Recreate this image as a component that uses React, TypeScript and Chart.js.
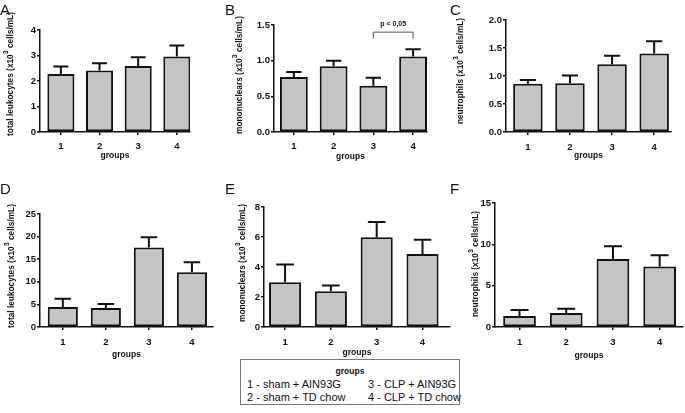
import React, { useEffect, useRef } from "react";
import { Chart, registerables } from "chart.js";

Chart.register(...registerables);

// ---------- data ----------
const groups = ["1", "2", "3", "4"];

// A: total leukocytes (x10^3 cells/mL)
const aMean = [2.27, 2.41, 2.59, 2.96];
const aSem = [0.3, 0.29, 0.34, 0.43];
const aTicks = [0, 1, 2, 3, 4];
// B: mononuclears
const bMean = [0.77, 0.92, 0.65, 1.06];
const bSem = [0.07, 0.08, 0.11, 0.1];
const bTicks = [0, 0.5, 1.0, 1.5];
// C: neutrophils
const cMean = [0.86, 0.87, 1.21, 1.4];
const cSem = [0.07, 0.14, 0.15, 0.22];
const cTicks = [0, 0.5, 1.0, 1.5, 2.0];
// D: total leukocytes
const dMean = [4.4, 4.2, 17.6, 12.1];
const dSem = [1.85, 0.9, 2.25, 2.2];
const dTicks = [0, 5, 10, 15, 20, 25];
// E: mononuclears
const eMean = [2.98, 2.38, 5.98, 4.87];
const eSem = [1.18, 0.38, 1.02, 0.95];
const eTicks = [0, 2, 4, 6, 8];
// F: neutrophils
const fMean = [1.33, 1.69, 8.23, 7.32];
const fSem = [0.73, 0.52, 1.53, 1.35];
const fTicks = [0, 5, 10, 15];

const pLabel = "p < 0,05";
const legendTitle = "groups";
const legendItems = [
  "1 - sham + AIN93G",
  "2 - sham + TD chow",
  "3 - CLP + AIN93G",
  "4 - CLP + TD chow",
];

const FONT = "'Liberation Sans', Arial, Helvetica, sans-serif";

type Panel = {
  letter: string;
  mean: number[];
  sem: number[];
  ticks: number[];
  dec: number;
  title: string;
  L: number; R: number; T: number; B: number;
  xMin: number; xMax: number;
  titleX: number; titleY: number;
  xl: number; xt: number;
  letterX: number; letterY: number;
  bracket?: boolean;
};

const panels: Panel[] = [
  { letter: "A", mean: aMean, sem: aSem, ticks: aTicks, dec: 0, title: "total leukocytes",
    L: 40, R: 190, T: 30, B: 132, xMin: 0.46, xMax: 4.34, titleX: 11, titleY: 74, xl: 14, xt: 24, letterX: 0, letterY: 2 },
  { letter: "B", mean: bMean, sem: bSem, ticks: bTicks, dec: 1, title: "mononuclears",
    L: 274, R: 427, T: 25, B: 132, xMin: 0.5, xMax: 4.35, titleX: 240, titleY: 75, xl: 14, xt: 25, letterX: 225, letterY: 2, bracket: true },
  { letter: "C", mean: cMean, sem: cSem, ticks: cTicks, dec: 1, title: "neutrophils",
    L: 506, R: 671, T: 20, B: 132, xMin: 0.48, xMax: 4.4, titleX: 461, titleY: 71, xl: 15, xt: 24, letterX: 450, letterY: 2 },
  { letter: "D", mean: dMean, sem: dSem, ticks: dTicks, dec: 0, title: "total leukocytes",
    L: 40, R: 213, T: 214, B: 327, xMin: 0.47, xMax: 4.49, titleX: 12, titleY: 266, xl: 15, xt: 28, letterX: 0, letterY: 181 },
  { letter: "E", mean: eMean, sem: eSem, ticks: eTicks, dec: 0, title: "mononuclears",
    L: 264, R: 450, T: 207, B: 327, xMin: 0.54, xMax: 4.6, titleX: 243, titleY: 263, xl: 15, xt: 26, letterX: 225, letterY: 181 },
  { letter: "F", mean: fMean, sem: fSem, ticks: fTicks, dec: 0, title: "neutrophils",
    L: 495, R: 683, T: 203, B: 327, xMin: 0.475, xMax: 4.5, titleX: 476, titleY: 264, xl: 15, xt: 29, letterX: 450, letterY: 181 },
];

function PanelChart({ p }: { p: Panel }) {
  const ref = useRef<HTMLCanvasElement | null>(null);
  const cl = Math.max(0, p.titleX - 10);
  const ct = Math.max(0, Math.min(p.T - 16, p.titleY - 72));
  const cr = Math.min(685, p.R + 8);
  const H = p.xt + 5;
  const cb = p.B + H;
  const cw = cr - cl;
  const ch = cb - ct;

  useEffect(() => {
    if (!ref.current) return;
    const yMax = p.ticks[p.ticks.length - 1];

    const errorBars = {
      id: "errorBars",
      afterDatasetsDraw(chart: any) {
        const ctx = chart.ctx;
        const meta = chart.getDatasetMeta(0);
        const ys = chart.scales.y;
        ctx.save();
        ctx.strokeStyle = "#111";
        ctx.lineWidth = 2;
        meta.data.forEach((bar: any, i: number) => {
          const top = ys.getPixelForValue(p.mean[i] + p.sem[i]);
          const cap = (bar.width * 0.55) / 2;
          ctx.beginPath();
          ctx.moveTo(bar.x, bar.y);
          ctx.lineTo(bar.x, top);
          ctx.moveTo(bar.x - cap, top);
          ctx.lineTo(bar.x + cap, top);
          ctx.stroke();
        });
        ctx.restore();
      },
    };

    const yTitle = {
      id: "yTitle",
      afterDraw(chart: any) {
        const ctx = chart.ctx;
        const main = `${p.title} (x10`;
        const sup = "3";
        const rest = " cells/mL)";
        const f1 = `bold 8.3px ${FONT}`;
        const f2 = `bold 7px ${FONT}`;
        ctx.save();
        ctx.fillStyle = "#111";
        ctx.font = f1;
        const w1 = ctx.measureText(main).width;
        const w3 = ctx.measureText(rest).width;
        ctx.font = f2;
        const w2 = ctx.measureText(sup).width;
        const w = w1 + w2 + w3;
        ctx.translate(p.titleX - cl, p.titleY - ct);
        ctx.rotate(-Math.PI / 2);
        ctx.textBaseline = "middle";
        ctx.textAlign = "left";
        let x = -w / 2;
        ctx.font = f1;
        ctx.fillText(main, x, 0);
        x += w1;
        ctx.font = f2;
        ctx.fillText(sup, x, -5);
        x += w2;
        ctx.font = f1;
        ctx.fillText(rest, x, 0);
        ctx.restore();
      },
    };

    const bracket = {
      id: "bracket",
      afterDraw(chart: any) {
        if (!p.bracket) return;
        const ctx = chart.ctx;
        const xs = chart.scales.x;
        const ys = chart.scales.y;
        const x1 = xs.getPixelForValue(3);
        const x2 = xs.getPixelForValue(4);
        const yTop = ys.getPixelForValue(1.4);
        const yLeg = ys.getPixelForValue(1.31);
        ctx.save();
        ctx.strokeStyle = "#555";
        ctx.lineWidth = 1;
        ctx.beginPath();
        ctx.moveTo(x1, yLeg);
        ctx.lineTo(x1, yTop);
        ctx.lineTo(x2, yTop);
        ctx.lineTo(x2, yLeg);
        ctx.stroke();
        ctx.fillStyle = "#111";
        ctx.font = `bold 7px ${FONT}`;
        ctx.textAlign = "center";
        ctx.textBaseline = "middle";
        ctx.fillText(pLabel, (x1 + x2) / 2, ys.getPixelForValue(1.51));
        ctx.restore();
      },
    };

    const chart = new Chart(ref.current, {
      type: "bar",
      data: {
        datasets: [
          {
            data: p.mean.map((v, i) => ({ x: i + 1, y: v })),
            backgroundColor: "#c4c4c4",
            borderColor: "#111",
            borderWidth: 2,
            borderSkipped: false,
            barPercentage: 0.7,
            categoryPercentage: 1,
          },
        ],
      },
      options: {
        responsive: false,
        animation: false,
        devicePixelRatio: 1,
        events: [],
        layout: { padding: { left: 0, top: p.T - ct, right: cr - p.R, bottom: 0 } },
        plugins: { legend: { display: false }, tooltip: { enabled: false } },
        scales: {
          x: {
            type: "linear",
            offset: false,
            min: p.xMin,
            max: p.xMax,
            afterBuildTicks: (s: any) => {
              s.ticks = groups.map((_, i) => ({ value: i + 1 }));
            },
            afterFit: (s: any) => {
              s.height = H;
            },
            ticks: {
              callback: (_v: any, i: number) => groups[i],
              font: { family: FONT, size: 9.5, weight: "bold" },
              color: "#111",
              padding: p.xl - 3 - 5.7,
              maxRotation: 0,
              autoSkip: false,
            },
            grid: { display: true, offset: false, drawOnChartArea: false, drawTicks: true, tickLength: 3, color: "#111", lineWidth: 1.5 },
            border: { display: true, color: "#111", width: 1.5 },
            title: {
              display: true,
              text: "groups",
              font: { family: FONT, size: 8.5, weight: "bold" },
              color: "#111",
              padding: 0,
            },
          },
          y: {
            type: "linear",
            min: 0,
            max: yMax,
            afterBuildTicks: (s: any) => {
              s.ticks = p.ticks.map((v) => ({ value: v }));
            },
            afterFit: (s: any) => {
              s.width = p.L - cl;
            },
            ticks: {
              callback: (v: any) => Number(v).toFixed(p.dec),
              font: { family: FONT, size: 9.5, weight: "bold" },
              color: "#111",
              padding: 1,
            },
            grid: { display: true, drawOnChartArea: false, drawTicks: true, tickLength: 3, color: "#111", lineWidth: 1.5 },
            border: { display: true, color: "#111", width: 1.5 },
          },
        },
      } as any,
      plugins: [errorBars, yTitle, bracket],
    });
    return () => chart.destroy();
  }, []);

  return (
    <>
      <canvas
        ref={ref}
        width={cw}
        height={ch}
        style={{ position: "absolute", left: cl, top: ct, width: cw, height: ch }}
      />
      <div
        style={{
          position: "absolute",
          left: p.letterX,
          top: p.letterY,
          font: `15px/15px ${FONT}`,
          color: "#111",
        }}
      >
        {p.letter}
      </div>
    </>
  );
}

export default function App() {
  return (
    <div
      style={{
        position: "absolute",
        left: 0,
        top: 0,
        width: 685,
        height: 413,
        background: "#fff",
        overflow: "hidden",
      }}
    >
      {panels.map((p) => (
        <PanelChart key={p.letter} p={p} />
      ))}
      <div
        style={{
          position: "absolute",
          left: 240,
          top: 359,
          width: 220,
          height: 46,
          border: "1px solid #777",
          boxSizing: "border-box",
          fontFamily: FONT,
          color: "#111",
        }}
      >
        <div
          style={{
            position: "absolute",
            left: 0,
            right: 0,
            top: 6,
            textAlign: "center",
            font: `bold 8.5px/10px ${FONT}`,
          }}
        >
          {legendTitle}
        </div>
        {legendItems.map((t, i) => (
          <div
            key={t}
            style={{
              position: "absolute",
              left: i < 2 ? 6 : 127,
              top: 18 + (i % 2) * 13,
              font: `11px/13px ${FONT}`,
              whiteSpace: "nowrap",
            }}
          >
            {t}
          </div>
        ))}
      </div>
    </div>
  );
}
